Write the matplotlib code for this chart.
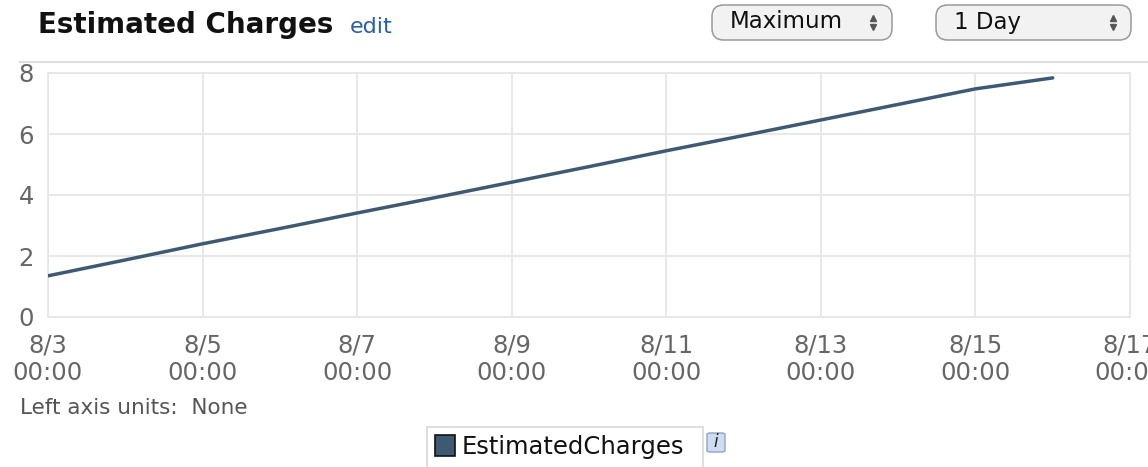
import matplotlib
matplotlib.use("Agg")
import matplotlib.pyplot as plt
import numpy as np
from matplotlib.patches import FancyBboxPatch, Rectangle
from matplotlib.lines import Line2D

# ---- data ----
dates = ["2012-08-03", "2012-08-04", "2012-08-05", "2012-08-06", "2012-08-07",
         "2012-08-08", "2012-08-09", "2012-08-10", "2012-08-11", "2012-08-12",
         "2012-08-13", "2012-08-14", "2012-08-15", "2012-08-16"]
charges = [1.35, 1.87, 2.40, 2.90, 3.41, 3.91, 4.42, 4.93, 5.45, 5.95,
           6.46, 6.97, 7.48, 7.84]
xtick_dates = ["2012-08-03", "2012-08-05", "2012-08-07", "2012-08-09",
               "2012-08-11", "2012-08-13", "2012-08-15", "2012-08-17"]
xtick_labels = ["8/3\n00:00", "8/5\n00:00", "8/7\n00:00", "8/9\n00:00",
                "8/11\n00:00", "8/13\n00:00", "8/15\n00:00", "8/17\n00:00"]
yticks = [0, 2, 4, 6, 8]
series_name = "EstimatedCharges"

W, H = 1148, 467
fig = plt.figure(figsize=(W / 100, H / 100), dpi=100)
plt.rcParams['font.family'] = ['DejaVu Sans']

def fx(px):
    return px / W

def fy(py):
    return 1 - py / H

ax = fig.add_axes([fx(48), fy(317), fx(1130) - fx(48), fy(73) - fy(317)])
x = np.array(dates, dtype="datetime64[D]").astype("datetime64[ms]").astype(object)
xt = np.array(xtick_dates, dtype="datetime64[D]").astype("datetime64[ms]").astype(object)

ax.plot(x, charges, color="#3e5a72", lw=2.5, solid_capstyle="round", zorder=3)
ax.set_xlim(xt[0], xt[-1])
ax.set_ylim(0, 8)
ax.set_xticks(xt)
ax.set_xticklabels(xtick_labels)
ax.set_yticks(yticks)
ax.grid(True, color="#e6e6e6", lw=1.3)
for s in ax.spines.values():
    s.set_color("#e6e6e6")
    s.set_linewidth(1.3)
ax.tick_params(length=0, colors="#666666", labelsize=17.5)
ax.tick_params(axis="x", pad=12)
ax.tick_params(axis="y", pad=10)

# header
fig.text(fx(38), fy(25), "Estimated Charges", fontsize=20, fontweight="bold",
         color="#111111", va="center", ha="left")
fig.text(fx(350), fy(27), "edit", fontsize=16, color="#2a5ea8", va="center", ha="left")
fig.add_artist(Line2D([fx(20), fx(1148)], [fy(62), fy(62)], color="#dddddd", lw=1.5))

# dropdowns
def dropdown(x0, x1, label, arrow_x):
    box = FancyBboxPatch((fx(x0), fy(40)), fx(x1) - fx(x0), fy(5) - fy(40),
                         boxstyle="round,pad=0,rounding_size=0.01",
                         transform=fig.transFigure, facecolor="#f2f2f2",
                         edgecolor="#9a9a9a", lw=1.1, mutation_aspect=W / H)
    fig.add_artist(box)
    fig.text(fx(x0 + 18), fy(22), label, fontsize=16.5, color="#111111",
             va="center", ha="left")
    fig.add_artist(Line2D([fx(arrow_x)], [fy(18)], marker="^", ms=4.5,
                          color="#555555", transform=fig.transFigure, lw=0))
    fig.add_artist(Line2D([fx(arrow_x)], [fy(27)], marker="v", ms=4.5,
                          color="#555555", transform=fig.transFigure, lw=0))

dropdown(712, 892, "Maximum", 873)
dropdown(936, 1131, "1 Day", 1113)

# left axis units
fig.text(fx(20), fy(408), "Left axis units:  None", fontsize=15.5, color="#555555",
         va="center", ha="left")

# legend
fig.add_artist(Rectangle((fx(427), fy(472)), fx(703) - fx(427), fy(427) - fy(472),
                         transform=fig.transFigure, facecolor="white",
                         edgecolor="#d8d8d8", lw=1.2))
fig.add_artist(Rectangle((fx(435), fy(456)), fx(455) - fx(435), fy(435) - fy(456),
                         transform=fig.transFigure, facecolor="#3e5a72",
                         edgecolor="#111111", lw=1.2))
fig.text(fx(462), fy(447), series_name, fontsize=17.5, color="#111111",
         va="center", ha="left")
# info icon
fig.add_artist(FancyBboxPatch((fx(707), fy(452)), fx(725) - fx(707), fy(433) - fy(452),
                              boxstyle="round,pad=0,rounding_size=0.003",
                              transform=fig.transFigure, facecolor="#cfdcf0",
                              edgecolor="#8da4c6", lw=1.0))
fig.text(fx(716), fy(442), "i", fontsize=12, style="italic", color="#222222",
         va="center", ha="center")

fig.savefig("out.png", dpi=100)
